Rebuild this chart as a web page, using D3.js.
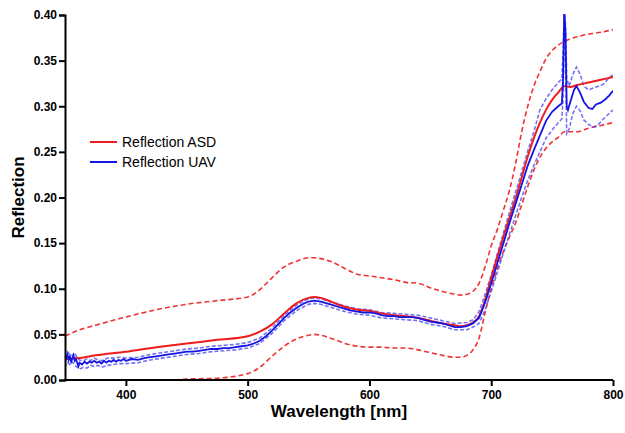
<!DOCTYPE html>
<html><head><meta charset="utf-8">
<script src="https://cdn.jsdelivr.net/npm/d3@7"></script>
<style>body{margin:0;background:#fff}svg{display:block}</style>
</head><body>
<script>
// ---------- data ----------
const xTicks = [400, 500, 600, 700, 800];
const yTicks = [0, 0.05, 0.10, 0.15, 0.20, 0.25, 0.30, 0.35, 0.40];
const seriesNames = ["Reflection ASD", "Reflection UAV"];

const asdWl = [350,362,375,400,425,450,475,500,510,520,530,540,550,555,560,570,580,590,600,610,620,630,640,650,660,670,675,680,685,690,695,700,705,710,715,720,725,730,735,740,745,750,755,760,765,770,780,790,800];
const asdMean = [0.023,0.024,0.027,0.031,0.036,0.040,0.044,0.048,0.053,0.061,0.073,0.084,0.090,0.091,0.090,0.085,0.080,0.077,0.076,0.073,0.071,0.070,0.068,0.065,0.062,0.060,0.059,0.060,0.063,0.070,0.088,0.112,0.135,0.157,0.178,0.199,0.222,0.245,0.265,0.282,0.296,0.307,0.315,0.322,0.321,0.323,0.326,0.329,0.332];
const asdUpper = [0.048,0.055,0.060,0.069,0.077,0.083,0.087,0.091,0.099,0.112,0.124,0.130,0.134,0.134,0.133,0.129,0.122,0.116,0.114,0.112,0.110,0.107,0.106,0.101,0.097,0.094,0.093,0.094,0.097,0.106,0.124,0.147,0.165,0.186,0.208,0.237,0.272,0.300,0.322,0.338,0.352,0.361,0.367,0.371,0.374,0.376,0.379,0.381,0.384];
const asdLower = [-0.024,-0.020,-0.016,-0.011,-0.003,0.001,0.002,0.007,0.014,0.026,0.037,0.045,0.049,0.050,0.049,0.045,0.040,0.037,0.036,0.036,0.035,0.035,0.033,0.030,0.027,0.025,0.025,0.027,0.033,0.046,0.074,0.100,0.122,0.141,0.157,0.172,0.192,0.212,0.230,0.244,0.254,0.261,0.266,0.272,0.272,0.272,0.276,0.279,0.282];

const uavWl = [350,351,352,353,354,355,356,357,358,359,360,361,362,364,366,368,370,372,374,376,378,380,382,384,386,388,390,392,394,396,398,400,405,410,415,420,425,430,435,440,445,450,455,460,465,470,475,480,485,490,495,500,505,510,515,520,525,530,535,540,545,550,555,560,565,570,575,580,585,590,595,600,605,610,615,620,625,630,635,640,645,650,655,660,665,670,675,680,685,690,695,700,705,710,715,720,725,730,735,740,745,750,755,758,759,760,761,762,763,765,768,770,773,776,780,783,786,790,794,797,800];
const uavMean = [0.019,0.025,0.028,0.022,0.026,0.020,0.024,0.027,0.021,0.023,0.019,0.015,0.019,0.017,0.020,0.018,0.020,0.019,0.021,0.019,0.020,0.018,0.021,0.019,0.021,0.020,0.022,0.020,0.022,0.021,0.023,0.021,0.023,0.022,0.024,0.025,0.026,0.027,0.028,0.029,0.030,0.031,0.031,0.032,0.033,0.034,0.034,0.035,0.035,0.036,0.037,0.038,0.040,0.043,0.048,0.054,0.061,0.068,0.074,0.079,0.083,0.086,0.087,0.086,0.084,0.082,0.080,0.078,0.076,0.075,0.074,0.074,0.073,0.071,0.070,0.070,0.069,0.069,0.069,0.068,0.066,0.064,0.063,0.062,0.060,0.058,0.058,0.059,0.062,0.068,0.085,0.106,0.128,0.150,0.172,0.193,0.214,0.235,0.252,0.268,0.284,0.294,0.300,0.303,0.330,0.405,0.380,0.300,0.296,0.305,0.318,0.322,0.315,0.305,0.298,0.297,0.302,0.304,0.308,0.312,0.317];

const uavBandWl = [350,352,354,356,358,360,362,365,368,371,374,377,380,385,390,395,400,410,420,430,440,450,460,470,480,490,500,510,520,530,540,550,555,560,570,580,590,600,610,620,630,640,650,660,670,680,685,690,695,700,705,710,715,720,725,730,735,740,745,750,755,758,759,760,761,762,764,767,770,773,776,780,784,788,792,796,800];
const uavUpper = [0.024,0.031,0.028,0.027,0.030,0.024,0.022,0.021,0.023,0.021,0.024,0.022,0.021,0.024,0.024,0.025,0.024,0.025,0.028,0.030,0.032,0.034,0.035,0.037,0.038,0.039,0.041,0.046,0.057,0.071,0.082,0.089,0.090,0.089,0.085,0.081,0.078,0.077,0.074,0.073,0.072,0.071,0.068,0.065,0.062,0.063,0.066,0.075,0.094,0.115,0.138,0.161,0.184,0.206,0.228,0.251,0.272,0.296,0.308,0.318,0.326,0.330,0.360,0.405,0.390,0.330,0.322,0.335,0.343,0.335,0.322,0.318,0.320,0.322,0.324,0.330,0.335];
const uavLower = [0.014,0.020,0.017,0.020,0.016,0.014,0.012,0.014,0.013,0.016,0.015,0.016,0.014,0.016,0.017,0.018,0.018,0.019,0.022,0.024,0.026,0.028,0.029,0.031,0.032,0.033,0.035,0.040,0.051,0.065,0.076,0.083,0.084,0.083,0.079,0.075,0.072,0.071,0.068,0.067,0.066,0.065,0.061,0.059,0.055,0.055,0.058,0.062,0.077,0.097,0.118,0.139,0.160,0.180,0.200,0.219,0.235,0.250,0.265,0.274,0.282,0.286,0.310,0.400,0.350,0.270,0.275,0.292,0.300,0.295,0.285,0.280,0.277,0.280,0.286,0.291,0.296];

// ---------- layout ----------
const W = 625, H = 433;
const m = {left: 65, right: 12, top: 15, bottom: 53};
const x = d3.scaleLinear().domain([350, 800]).range([m.left, W - m.right]);
const y = d3.scaleLinear().domain([0, 0.40]).range([H - m.bottom, m.top]);

const svg = d3.select("body").append("svg").attr("width", W).attr("height", H);

svg.append("defs").append("clipPath").attr("id", "clip")
  .append("rect").attr("x", m.left).attr("y", m.top - 1)
  .attr("width", W - m.right - m.left).attr("height", H - m.bottom - m.top + 1);

const RED = "#ee1c1c", BLUE = "#1414e6", LBLUE = "#5050f0";
const line = d3.line().x(d => x(d[0])).y(d => y(d[1]));
const zipS = (a, b) => a.map((v, i) => [v, b[i]]);

const g = svg.append("g").attr("clip-path", "url(#clip)");

// ASD dashed band
[asdUpper, asdLower].forEach(arr => {
  g.append("path").datum(zipS(asdWl, arr)).attr("d", line.curve(d3.curveMonotoneX))
    .attr("fill", "none").attr("stroke", RED).attr("stroke-width", 1.6)
    .attr("stroke-dasharray", "5,3").attr("opacity", 0.9);
});
// UAV dashed band
[uavUpper, uavLower].forEach(arr => {
  g.append("path").datum(zipS(uavBandWl, arr)).attr("d", line.curve(d3.curveLinear))
    .attr("fill", "none").attr("stroke", LBLUE).attr("stroke-width", 1.6)
    .attr("stroke-dasharray", "4,2").attr("opacity", 0.8);
});
// ASD mean
g.append("path").datum(zipS(asdWl, asdMean)).attr("d", line.curve(d3.curveMonotoneX))
  .attr("fill", "none").attr("stroke", RED).attr("stroke-width", 2);
// UAV mean
g.append("path").datum(zipS(uavWl, uavMean)).attr("d", line.curve(d3.curveLinear))
  .attr("fill", "none").attr("stroke", BLUE).attr("stroke-width", 1.8);

// ---------- axes ----------
const font = "'Liberation Sans', Arial, Helvetica, sans-serif";
const xAxis = svg.append("g").attr("transform", `translate(0,${y(0)})`)
  .call(d3.axisBottom(x).tickValues(xTicks).tickFormat(d3.format("d")).tickSizeOuter(0).tickSize(6).tickPadding(4));
const yAxis = svg.append("g").attr("transform", `translate(${x(350)},0)`)
  .call(d3.axisLeft(y).tickValues(yTicks).tickFormat(d3.format(".2f")).tickSizeOuter(0).tickSize(6).tickPadding(2));
[xAxis, yAxis].forEach(a => {
  a.selectAll("path.domain").attr("stroke", "#000").attr("stroke-width", 2);
  a.selectAll(".tick line").attr("stroke", "#000").attr("stroke-width", 2);
  a.selectAll(".tick text").attr("fill", "#000").style("font-family", font)
    .style("font-size", "12px").style("font-weight", "bold");
});
xAxis.select("path.domain").attr("d", `M${x(350)-1},0H${x(800)}`);

svg.append("text").attr("x", (x(350) + x(800)) / 2).attr("y", 417)
  .attr("text-anchor", "middle").style("font-family", font)
  .style("font-size", "17px").style("font-weight", "bold").text("Wavelength [nm]");
svg.append("text").attr("transform", `translate(24,${(y(0) + y(0.40)) / 2}) rotate(-90)`)
  .attr("text-anchor", "middle").style("font-family", font)
  .style("font-size", "17px").style("font-weight", "bold").text("Reflection");

// ---------- legend ----------
const legColors = [RED, BLUE];
const leg = svg.append("g");
seriesNames.forEach((name, i) => {
  const yy = 142 + i * 20;
  leg.append("line").attr("x1", 90).attr("x2", 117).attr("y1", yy).attr("y2", yy)
    .attr("stroke", legColors[i]).attr("stroke-width", 2);
  leg.append("text").attr("x", 122).attr("y", yy + 5).style("font-family", font)
    .style("font-size", "14px").text(name);
});
</script>
</body></html>
